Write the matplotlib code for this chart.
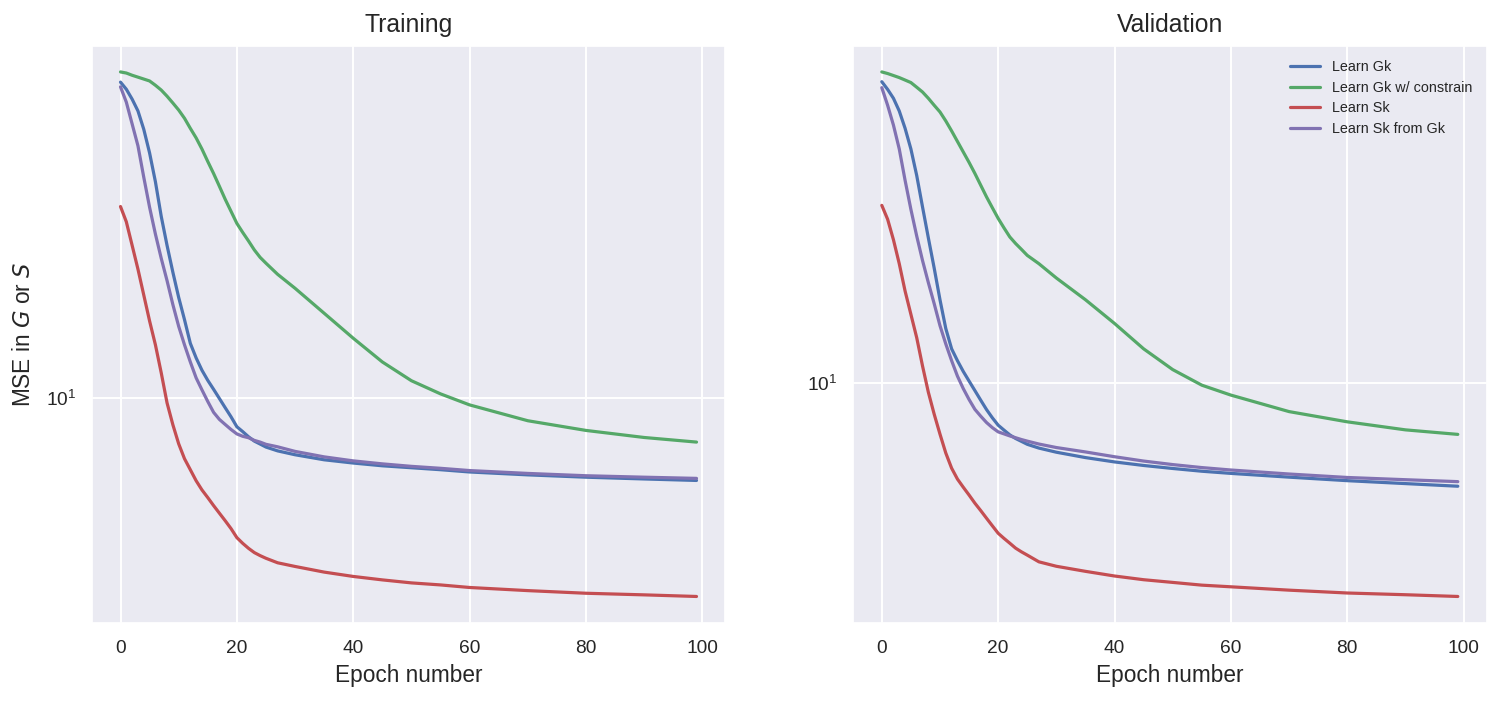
import matplotlib
matplotlib.use("Agg")
import matplotlib.pyplot as plt
import seaborn as sns

# ---------------- data ----------------
epochs = [0, 1, 2, 3, 4, 5, 6, 7, 8, 9, 10, 11, 12, 13, 14, 15, 16, 17, 18, 19,
          20, 21, 22, 23, 24, 25, 27, 30, 35, 40, 45, 50, 55, 60, 70, 80, 90, 99]

series_labels = ["Learn Gk", "Learn Gk w/ constrain", "Learn Sk", "Learn Sk from Gk"]

train_gk = [50.3, 48.5, 46.1, 43.4, 39.5, 35.0, 30.2, 25.3, 21.8, 19.0, 16.7, 14.9,
            13.2, 12.25, 11.5, 10.92, 10.43, 9.95, 9.49, 9.06, 8.61, 8.40, 8.18, 8.00,
            7.88, 7.76, 7.61, 7.46, 7.27, 7.15, 7.05, 6.98, 6.91, 6.83, 6.73, 6.65,
            6.59, 6.54]
train_gk_con = [53.0, 52.7, 52.1, 51.6, 51.1, 50.6, 49.5, 48.3, 46.8, 45.2, 43.6, 41.8,
                39.7, 37.8, 35.7, 33.5, 31.5, 29.5, 27.6, 25.95, 24.4, 23.3, 22.3, 21.3,
                20.5, 19.9, 18.8, 17.5, 15.4, 13.55, 12.0, 10.9, 10.19, 9.63, 8.88, 8.45,
                8.15, 7.96]
train_sk = [26.6, 24.6, 21.8, 19.3, 16.9, 14.8, 13.1, 11.35, 9.73, 8.70, 7.89, 7.31,
            6.91, 6.53, 6.23, 5.99, 5.75, 5.53, 5.32, 5.11, 4.88, 4.74, 4.62, 4.52,
            4.45, 4.39, 4.29, 4.21, 4.09, 4.00, 3.93, 3.87, 3.83, 3.78, 3.72, 3.67,
            3.64, 3.61]
train_sk_gk = [49.1, 45.4, 40.6, 36.3, 30.9, 26.5, 23.1, 20.4, 18.2, 16.1, 14.4, 13.1,
               12.0, 11.06, 10.4, 9.80, 9.27, 8.94, 8.71, 8.49, 8.30, 8.20, 8.14, 8.03,
               7.96, 7.87, 7.77, 7.59, 7.38, 7.23, 7.12, 7.03, 6.96, 6.88, 6.78, 6.70,
               6.65, 6.61]

val_gk = [46.7, 44.9, 42.9, 40.2, 36.8, 33.1, 28.9, 24.6, 21.0, 18.0, 15.3, 13.2,
          11.9, 11.2, 10.6, 10.09, 9.61, 9.15, 8.72, 8.36, 8.05, 7.85, 7.66, 7.52,
          7.41, 7.30, 7.16, 7.01, 6.82, 6.67, 6.55, 6.45, 6.36, 6.29, 6.17, 6.06,
          5.97, 5.89]
val_gk_con = [49.1, 48.7, 48.2, 47.7, 47.1, 46.5, 45.4, 44.3, 42.9, 41.4, 40.0, 38.2,
              36.3, 34.4, 32.6, 30.9, 29.2, 27.5, 25.9, 24.5, 23.2, 22.1, 21.1, 20.4,
              19.8, 19.2, 18.4, 17.1, 15.3, 13.55, 11.9, 10.7, 9.88, 9.39, 8.63, 8.19,
              7.86, 7.68]
val_sk = [24.8, 23.1, 20.8, 18.4, 16.0, 14.2, 12.6, 10.9, 9.53, 8.52, 7.69, 6.98,
          6.46, 6.11, 5.86, 5.63, 5.40, 5.20, 5.00, 4.81, 4.63, 4.51, 4.40, 4.29,
          4.21, 4.14, 4.00, 3.91, 3.81, 3.72, 3.65, 3.60, 3.55, 3.52, 3.46, 3.41,
          3.38, 3.35]
val_sk_gk = [45.3, 41.4, 37.4, 33.1, 28.2, 24.3, 21.2, 18.7, 16.7, 15.0, 13.4, 12.2,
             11.2, 10.35, 9.71, 9.18, 8.73, 8.43, 8.16, 7.95, 7.78, 7.70, 7.62, 7.55,
             7.48, 7.42, 7.31, 7.18, 7.02, 6.85, 6.70, 6.58, 6.48, 6.40, 6.27, 6.16,
             6.09, 6.03]

colors = ["#4C72B0", "#55A868", "#C44E52", "#8172B2"]

# ---------------- style ----------------
sns.set_theme(style="darkgrid")
plt.rcParams["font.family"] = ["Liberation Sans", "DejaVu Sans"]
plt.rcParams["grid.linewidth"] = 1.4
plt.rcParams["axes.labelcolor"] = ".15"
plt.rcParams["xtick.color"] = ".15"
plt.rcParams["ytick.color"] = ".15"

fig = plt.figure(figsize=(15.01, 7.01), dpi=100)
W, H = 1501.0, 701.0
ax_w = 633.6 / W
ax_h = (622.7 - 45.7) / H
ax_b = 1 - 622.7 / H
ax1 = fig.add_axes([91.7 / W, ax_b, ax_w, ax_h])
ax2 = fig.add_axes([853.0 / W, ax_b, ax_w, ax_h])

panels = [
    (ax1, "Training", [train_gk, train_gk_con, train_sk, train_sk_gk]),
    (ax2, "Validation", [val_gk, val_gk_con, val_sk, val_sk_gk]),
]

for ax, title, data in panels:
    for vals, lab, col in zip(data, series_labels, colors):
        ax.plot(epochs, vals, color=col, lw=2.3, label=lab)
    ax.set_yscale("log")
    ax.set_title(title, fontsize=17.8, color=".15", pad=10)
    ax.set_xlabel("Epoch number", fontsize=16.3, labelpad=5)
    ax.set_xticks([0, 20, 40, 60, 80, 100])
    ax.tick_params(axis="both", which="both", labelsize=13.8, length=0)
    ax.tick_params(axis="x", which="both", pad=12.5)
    ax.tick_params(axis="y", which="both", pad=11)
    ax.grid(True, which="major", color="white", lw=1.4)
    ax.grid(False, which="minor")

ax1.set_ylabel("MSE in $G$ or $S$", fontsize=16.3, labelpad=8)

ax2.legend(loc="upper right", fontsize=10.4, frameon=False,
           handlelength=2.1, borderaxespad=0.6, labelspacing=0.45)

fig.savefig("out.png", dpi=100)
